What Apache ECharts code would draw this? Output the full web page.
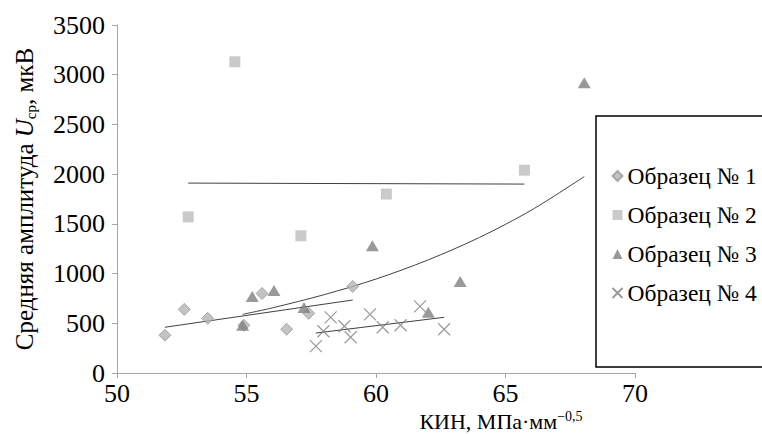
<!DOCTYPE html>
<html>
<head>
<meta charset="utf-8">
<script src="https://cdn.jsdelivr.net/npm/echarts@6/dist/echarts.min.js"></script>
<style>
html,body{margin:0;padding:0;background:#fff;}
#chart{width:762px;height:434px;}
</style>
</head>
<body>
<div id="chart"></div>
<script>
// Data
var xTicks = [50, 55, 60, 65, 70];
var yTicks = [0, 500, 1000, 1500, 2000, 2500, 3000, 3500];
var seriesNames = ['Образец № 1', 'Образец № 2', 'Образец № 3', 'Образец № 4'];

var s1x = [51.85, 52.6, 53.5, 54.9, 55.6, 56.55, 57.4, 59.1];
var s1y = [380, 640, 550, 480, 800, 440, 600, 870];
var s2x = [52.75, 54.55, 57.1, 60.4, 65.73];
var s2y = [1570, 3130, 1380, 1800, 2040];
var s3x = [54.85, 55.22, 56.06, 57.22, 59.86, 62.02, 63.25, 68.04];
var s3y = [480, 770, 830, 660, 1280, 610, 920, 2920];
var s4x = [57.68, 57.97, 58.25, 58.78, 59.02, 59.77, 60.26, 60.95, 61.7, 62.63];
var s4y = [270, 420, 560, 470, 360, 590, 460, 480, 670, 440];

// Trend lines
var t1x = [51.85, 59.1];
var t1y = [460, 734];
var t2x = [52.75, 65.73];
var t2y = [1910, 1900];
var t3x = [54.85, 56, 58, 60, 62, 64, 66, 68.04];
var t3y = [590, 655, 788, 945, 1136, 1364, 1638, 1975];
var t4x = [57.68, 62.63];
var t4y = [402, 560];

function pairs(xs, ys) { return xs.map(function (x, i) { return [x, ys[i]]; }); }

var FONT = "'Liberation Serif', 'Times New Roman', 'DejaVu Serif'";
var crossPath = 'path://M0,0L10,10M10,0L0,10';

function trend(xs, ys, smooth) {
  return {
    type: 'line', data: pairs(xs, ys), showSymbol: false, symbol: 'none',
    smooth: smooth ? 0.3 : false, silent: true,
    lineStyle: { color: '#404040', width: 1 }, z: 1
  };
}
function plain(v) { return '{n|' + String(v) + '}'; }
var tickRich = { n: { fontFamily: FONT, fontSize: 26, color: '#000' } };

var chart = echarts.init(document.getElementById('chart'), null, { renderer: 'svg' });
chart.setOption({
  animation: false,
  backgroundColor: '#ffffff',
  textStyle: { fontFamily: FONT },
  grid: { left: 117, right: 127, top: 25, bottom: 61, containLabel: false, outerBoundsMode: 'none' },
  xAxis: {
    type: 'value', min: xTicks[0], max: xTicks[xTicks.length - 1], interval: 5,
    splitLine: { show: false },
    axisLine: { lineStyle: { color: '#a6a6a6', width: 1 } },
    axisTick: { show: true, length: 5, lineStyle: { color: '#a6a6a6' } },
    axisLabel: { color: '#000', fontFamily: FONT, fontSize: 26, margin: 7, formatter: plain, rich: tickRich },
    name: 'КИН, МПа·мм{sup|−0,5}',
    nameLocation: 'middle', nameGap: 36, nameMoveOverlap: false,
    nameTextStyle: {
      color: '#000', fontFamily: FONT, fontSize: 22, padding: [0, 0, 0, 250],
      rich: { sup: { fontFamily: FONT, fontSize: 14, color: '#000', padding: [0, 0, 11, 0] } }
    }
  },
  yAxis: {
    type: 'value', min: yTicks[0], max: yTicks[yTicks.length - 1], interval: 500,
    splitLine: { show: false },
    axisLine: { show: true, lineStyle: { color: '#a6a6a6', width: 1 } },
    axisTick: { show: true, length: 5, lineStyle: { color: '#a6a6a6' } },
    axisLabel: { color: '#000', fontFamily: FONT, fontSize: 26, margin: 12, formatter: plain, rich: tickRich },
    name: 'Средняя амплитуда {i|U}{sub|ср}, мкВ',
    nameLocation: 'middle', nameGap: 79, nameRotate: 90, nameMoveOverlap: false,
    nameTextStyle: {
      color: '#000', fontFamily: FONT, fontSize: 25,
      rich: {
        i: { fontFamily: FONT, fontSize: 25, fontStyle: 'italic', color: '#000' },
        sub: { fontFamily: FONT, fontSize: 15, color: '#000', padding: [12, 0, 0, 0] }
      }
    }
  },
  legend: {
    data: seriesNames, orient: 'vertical', left: 596, top: 116,
    padding: [48, 80, 62, 14], itemGap: 15, itemWidth: 10, itemHeight: 10,
    borderColor: '#000', borderWidth: 1.5,
    textStyle: { color: '#000', fontFamily: FONT, fontSize: 23.5, lineHeight: 24 }
  },
  series: [
    { name: seriesNames[0], type: 'scatter', data: pairs(s1x, s1y), symbol: 'diamond', symbolSize: 12,
      itemStyle: { color: '#b4b4b4', borderColor: '#9a9a9a', borderWidth: 1 }, z: 3 },
    { name: seriesNames[1], type: 'scatter', data: pairs(s2x, s2y), symbol: 'rect', symbolSize: 11,
      itemStyle: { color: '#bdbdbd' }, z: 3 },
    { name: seriesNames[2], type: 'scatter', data: pairs(s3x, s3y), symbol: 'triangle', symbolSize: [13, 11],
      itemStyle: { color: '#7f7f7f' }, z: 3 },
    { name: seriesNames[3], type: 'scatter', data: pairs(s4x, s4y), symbol: crossPath, symbolSize: 12,
      itemStyle: { color: 'none', borderColor: '#808080', borderWidth: 1.2 }, z: 3 },
    trend(t1x, t1y, false),
    trend(t2x, t2y, false),
    trend(t3x, t3y, true),
    trend(t4x, t4y, false)
  ]
});
</script>
</body>
</html>
